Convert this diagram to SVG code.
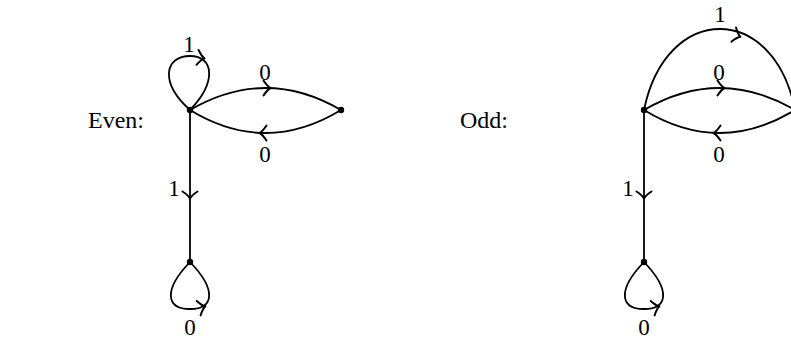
<svg xmlns="http://www.w3.org/2000/svg" width="791" height="341" viewBox="0 0 791 341">
<style>
.e{fill:none;stroke:#000;stroke-width:1.8}
.a{fill:none;stroke:#000;stroke-width:2;stroke-linecap:round;stroke-linejoin:round}
.n{fill:#000}
text{font-family:"Liberation Serif","DejaVu Serif",serif;font-size:23px;fill:#000}
.t{font-size:24px}
.l{text-anchor:middle}
</style>
<defs>
<path id="ah" d="M-4.5,-7.5 Q-0.5,-1.5 2.5,0 Q-0.5,1.5 -4.5,7.5"/>
</defs>
<rect width="791" height="341" fill="#fff"/>
<text class="t" x="88" y="128">Even:</text>
<text class="t" x="460" y="128">Odd:</text>
<g id="connectors">
<path class="e" d="M190,110 C159,82 165,56 190,56 C214,56 217,82 190,110"/>
<path class="e" d="M190,110 Q265.5,66 341,110"/>
<path class="e" d="M341,110 Q265.5,156 190,110"/>
<path class="e" d="M190,110 L190,262"/>
<path class="e" d="M190,262 C163,290 166,309 190,309 C214,309 217,290 190,262"/>
<use href="#ah" class="a" transform="translate(202,58) rotate(8)"/>
<use href="#ah" class="a" transform="translate(268,88)"/>
<use href="#ah" class="a" transform="translate(262,133) rotate(180)"/>
<use href="#ah" class="a" transform="translate(190,196) rotate(90)"/>
<use href="#ah" class="a" transform="translate(203,307) rotate(-15)"/>
<path class="e" d="M644,110 C666,2 774,2 795,110"/>
<path class="e" d="M644,110 Q719.5,66 795,110"/>
<path class="e" d="M795,110 Q719.5,156 644,110"/>
<path class="e" d="M644,110 L644,262"/>
<path class="e" d="M644,262 C617,290 620,309 644,309 C668,309 671,290 644,262"/>
<use href="#ah" class="a" transform="translate(738,36) rotate(18)"/>
<use href="#ah" class="a" transform="translate(722,88)"/>
<use href="#ah" class="a" transform="translate(716,133) rotate(180)"/>
<use href="#ah" class="a" transform="translate(644,196) rotate(90)"/>
<use href="#ah" class="a" transform="translate(657,307) rotate(-15)"/>
</g>
<g id="even-a"><circle class="n" cx="190" cy="110" r="3.2"/></g>
<g id="even-b"><circle class="n" cx="341" cy="110" r="3.2"/></g>
<g id="even-c"><circle class="n" cx="190" cy="262" r="3.2"/></g>
<g id="odd-a"><circle class="n" cx="644" cy="110" r="3.2"/></g>
<g id="odd-b"><circle class="n" cx="795" cy="110" r="3.2"/></g>
<g id="odd-c"><circle class="n" cx="644" cy="262" r="3.2"/></g>
<g id="labels">
<text class="l" x="189" y="52">1</text>
<text class="l" x="265" y="80">0</text>
<text class="l" x="265" y="162">0</text>
<text class="l" x="174" y="196">1</text>
<text class="l" x="190" y="335">0</text>
<text class="l" x="720" y="22">1</text>
<text class="l" x="719" y="80">0</text>
<text class="l" x="719" y="162">0</text>
<text class="l" x="628" y="196">1</text>
<text class="l" x="644" y="335">0</text>
</g>
</svg>
